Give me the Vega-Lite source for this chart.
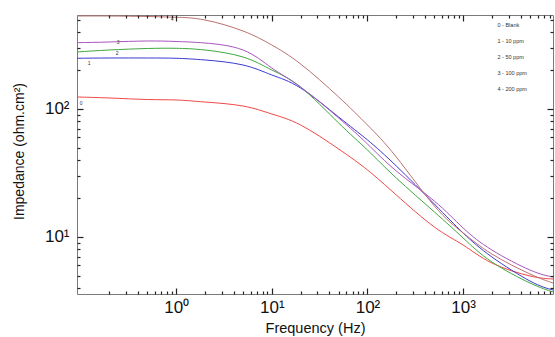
{
  "$schema": "https://vega.github.io/schema/vega-lite/v6.json",
  "width": 476,
  "height": 279,
  "autosize": {"type": "none"},
  "padding": {"left": 77, "top": 15, "right": 2, "bottom": 43},
  "background": "white",
  "config": {
    "view": {"stroke": "#7a7a7a", "strokeWidth": 1},
    "font": "Liberation Sans"
  },
  "datasets": {
    "curves": [
      {"series": "0 - Blank", "freq": 0.092, "imp": 124.1},
      {"series": "0 - Blank", "freq": 0.2, "imp": 121.9},
      {"series": "0 - Blank", "freq": 0.5, "imp": 118.6},
      {"series": "0 - Blank", "freq": 1, "imp": 117.6},
      {"series": "0 - Blank", "freq": 2, "imp": 113.4},
      {"series": "0 - Blank", "freq": 5, "imp": 105.5},
      {"series": "0 - Blank", "freq": 10, "imp": 91.4},
      {"series": "0 - Blank", "freq": 20, "imp": 75.0},
      {"series": "0 - Blank", "freq": 50, "imp": 48.7},
      {"series": "0 - Blank", "freq": 100, "imp": 33.4},
      {"series": "0 - Blank", "freq": 200, "imp": 21.3},
      {"series": "0 - Blank", "freq": 500, "imp": 11.97},
      {"series": "0 - Blank", "freq": 1000, "imp": 8.66},
      {"series": "0 - Blank", "freq": 2000, "imp": 6.26},
      {"series": "0 - Blank", "freq": 5000, "imp": 4.96},
      {"series": "0 - Blank", "freq": 8700, "imp": 4.70},
      {"series": "1 - 10 ppm", "freq": 0.092, "imp": 249.0},
      {"series": "1 - 10 ppm", "freq": 0.2, "imp": 250.3},
      {"series": "1 - 10 ppm", "freq": 0.5, "imp": 250.3},
      {"series": "1 - 10 ppm", "freq": 1, "imp": 249.0},
      {"series": "1 - 10 ppm", "freq": 2, "imp": 241.5},
      {"series": "1 - 10 ppm", "freq": 5, "imp": 220.7},
      {"series": "1 - 10 ppm", "freq": 10, "imp": 184.4},
      {"series": "1 - 10 ppm", "freq": 20, "imp": 145.9},
      {"series": "1 - 10 ppm", "freq": 50, "imp": 86.6},
      {"series": "1 - 10 ppm", "freq": 100, "imp": 57.3},
      {"series": "1 - 10 ppm", "freq": 200, "imp": 35.9},
      {"series": "1 - 10 ppm", "freq": 500, "imp": 18.1},
      {"series": "1 - 10 ppm", "freq": 1000, "imp": 10.75},
      {"series": "1 - 10 ppm", "freq": 2000, "imp": 6.98},
      {"series": "1 - 10 ppm", "freq": 5000, "imp": 4.53},
      {"series": "1 - 10 ppm", "freq": 8700, "imp": 3.85},
      {"series": "2 - 50 ppm", "freq": 0.092, "imp": 278.8},
      {"series": "2 - 50 ppm", "freq": 0.2, "imp": 289.0},
      {"series": "2 - 50 ppm", "freq": 0.5, "imp": 296.9},
      {"series": "2 - 50 ppm", "freq": 1, "imp": 298.0},
      {"series": "2 - 50 ppm", "freq": 2, "imp": 289.0},
      {"series": "2 - 50 ppm", "freq": 5, "imp": 254.8},
      {"series": "2 - 50 ppm", "freq": 10, "imp": 201.7},
      {"series": "2 - 50 ppm", "freq": 20, "imp": 148.5},
      {"series": "2 - 50 ppm", "freq": 50, "imp": 77.7},
      {"series": "2 - 50 ppm", "freq": 100, "imp": 47.8},
      {"series": "2 - 50 ppm", "freq": 200, "imp": 28.9},
      {"series": "2 - 50 ppm", "freq": 500, "imp": 15.7},
      {"series": "2 - 50 ppm", "freq": 1000, "imp": 9.82},
      {"series": "2 - 50 ppm", "freq": 2000, "imp": 6.38},
      {"series": "2 - 50 ppm", "freq": 5000, "imp": 4.37},
      {"series": "2 - 50 ppm", "freq": 8700, "imp": 3.72},
      {"series": "3 - 100 ppm", "freq": 0.092, "imp": 329.6},
      {"series": "3 - 100 ppm", "freq": 0.2, "imp": 333.8},
      {"series": "3 - 100 ppm", "freq": 0.5, "imp": 339.8},
      {"series": "3 - 100 ppm", "freq": 1, "imp": 336.8},
      {"series": "3 - 100 ppm", "freq": 2, "imp": 327.8},
      {"series": "3 - 100 ppm", "freq": 5, "imp": 289.0},
      {"series": "3 - 100 ppm", "freq": 10, "imp": 209.1},
      {"series": "3 - 100 ppm", "freq": 20, "imp": 148.5},
      {"series": "3 - 100 ppm", "freq": 50, "imp": 85.1},
      {"series": "3 - 100 ppm", "freq": 100, "imp": 53.3},
      {"series": "3 - 100 ppm", "freq": 200, "imp": 32.8},
      {"series": "3 - 100 ppm", "freq": 500, "imp": 19.1},
      {"series": "3 - 100 ppm", "freq": 1000, "imp": 11.76},
      {"series": "3 - 100 ppm", "freq": 2000, "imp": 7.91},
      {"series": "3 - 100 ppm", "freq": 5000, "imp": 5.52},
      {"series": "3 - 100 ppm", "freq": 8700, "imp": 4.87},
      {"series": "4 - 200 ppm", "freq": 0.092, "imp": 532.7},
      {"series": "4 - 200 ppm", "freq": 0.2, "imp": 532.7},
      {"series": "4 - 200 ppm", "freq": 0.5, "imp": 528.0},
      {"series": "4 - 200 ppm", "freq": 1, "imp": 521.0},
      {"series": "4 - 200 ppm", "freq": 2, "imp": 496.0},
      {"series": "4 - 200 ppm", "freq": 5, "imp": 406.8},
      {"series": "4 - 200 ppm", "freq": 10, "imp": 316.2},
      {"series": "4 - 200 ppm", "freq": 20, "imp": 224.7},
      {"series": "4 - 200 ppm", "freq": 50, "imp": 124.1},
      {"series": "4 - 200 ppm", "freq": 100, "imp": 75.0},
      {"series": "4 - 200 ppm", "freq": 200, "imp": 42.2},
      {"series": "4 - 200 ppm", "freq": 500, "imp": 17.5},
      {"series": "4 - 200 ppm", "freq": 1000, "imp": 10.75},
      {"series": "4 - 200 ppm", "freq": 2000, "imp": 7.36},
      {"series": "4 - 200 ppm", "freq": 5000, "imp": 5.14},
      {"series": "4 - 200 ppm", "freq": 8700, "imp": 4.37}
    ],
    "tags": [
      {"tag": "0", "freq": 0.1017, "imp": 111.4},
      {"tag": "1", "freq": 0.123, "imp": 228.8},
      {"tag": "2", "freq": 0.2416, "imp": 273.8},
      {"tag": "3", "freq": 0.2475, "imp": 333.8},
      {"tag": "4", "freq": 0.908, "imp": 504.9}
    ]
  },
  "layer": [
    {
      "data": {"name": "curves"},
      "mark": {"type": "line", "strokeWidth": 1, "interpolate": "natural", "clip": true},
      "encoding": {
        "x": {
          "field": "freq", "type": "quantitative",
          "scale": {"type": "log", "domain": [0.092, 8700], "nice": false},
          "axis": {
            "orient": "bottom",
            "zindex": 1,
            "values": [1, 10, 100, 1000],
            "labelExpr": "datum.value == 1 ? '10⁰' : datum.value == 10 ? '10¹' : datum.value == 100 ? '10²' : '10³'",
            "offset": -6,
            "tickSize": 6,
            "ticks": true,
            "tickColor": "#222222",
            "tickWidth": 1.2,
            "domain": false,
            "grid": false,
            "labelFontSize": 17,
            "labelColor": "#111111",
            "labelPadding": 5,
            "labelBaseline": "top",
            "labelFlush": false,
            "labelOverlap": false,
            "title": "Frequency (Hz)",
            "titleFontSize": 14.5,
            "titleFontWeight": "normal",
            "titleColor": "#111111",
            "titleBaseline": "top",
            "titleY": 33
          }
        },
        "y": {
          "field": "imp", "type": "quantitative",
          "scale": {"type": "log", "domain": [3.586, 542.4], "nice": false},
          "axis": {
            "orient": "left",
            "zindex": 1,
            "values": [10, 100],
            "labelExpr": "datum.value == 10 ? '10¹' : '10²'",
            "offset": -6,
            "tickSize": 6,
            "ticks": true,
            "tickColor": "#222222",
            "tickWidth": 1.2,
            "domain": false,
            "grid": false,
            "labelFontSize": 17,
            "labelColor": "#111111",
            "labelPadding": 8,
            "labelFlush": false,
            "labelOverlap": false,
            "title": "Impedance (ohm.cm²)",
            "titleFontSize": 14,
            "titleFontWeight": "normal",
            "titleColor": "#111111",
            "titleAngle": -90,
            "titleBaseline": "bottom",
            "titleAlign": "center",
            "titleX": -57,
            "titleY": 136
          }
        },
        "color": {
          "field": "series", "type": "nominal",
          "scale": {
            "domain": ["0 - Blank", "1 - 10 ppm", "2 - 50 ppm", "3 - 100 ppm", "4 - 200 ppm"],
            "range": ["#f04848", "#3a3ad0", "#3fa83f", "#a855c0", "#bb7070"]
          },
          "legend": {
            "orient": "none",
            "legendX": 415,
            "legendY": 7,
            "title": null,
            "symbolSize": 0,
            "symbolOpacity": 0,
            "symbolStrokeWidth": 0,
            "labelFontSize": 5.5,
            "labelColor": "#333333",
            "labelOffset": 0,
            "rowPadding": 9,
            "padding": 0
          }
        }
      }
    },
    {
      "data": {"name": "tags"},
      "mark": {"type": "text", "fontSize": 5, "color": "#333333"},
      "encoding": {
        "x": {
          "field": "freq", "type": "quantitative",
          "scale": {"type": "log", "domain": [0.092, 8700], "nice": false},
          "axis": {
            "orient": "top",
            "zindex": 1,
            "values": [1, 10, 100, 1000],
            "labels": false,
            "title": null,
            "grid": false,
            "domain": false,
            "offset": -6,
            "tickSize": 6,
            "ticks": true,
            "tickColor": "#222222",
            "tickWidth": 1.2
          }
        },
        "y": {
          "field": "imp", "type": "quantitative",
          "scale": {"type": "log", "domain": [3.586, 542.4], "nice": false},
          "axis": {
            "orient": "right",
            "zindex": 1,
            "values": [10, 100],
            "labels": false,
            "title": null,
            "grid": false,
            "domain": false,
            "offset": -6,
            "tickSize": 6,
            "ticks": true,
            "tickColor": "#222222",
            "tickWidth": 1.2
          }
        },
        "text": {"field": "tag", "type": "nominal"}
      }
    },
    {
      "data": {"name": "tags"},
      "mark": {"type": "point", "opacity": 0},
      "encoding": {
        "x": {
          "field": "freq", "type": "quantitative",
          "scale": {"type": "log", "domain": [0.092, 8700], "nice": false},
          "axis": {
            "orient": "bottom",
            "zindex": 1,
            "values": [0.2, 0.3, 0.4, 0.5, 0.6, 0.7, 0.8, 0.9, 2, 3, 4, 5, 6, 7, 8, 9, 20, 30, 40, 50, 60, 70, 80, 90, 200, 300, 400, 500, 600, 700, 800, 900, 2000, 3000, 4000, 5000, 6000, 7000, 8000],
            "labels": false,
            "title": null,
            "grid": false,
            "domain": false,
            "offset": -3,
            "tickSize": 3,
            "ticks": true,
            "tickColor": "#222222",
            "tickWidth": 1.2
          }
        },
        "y": {
          "field": "imp", "type": "quantitative",
          "scale": {"type": "log", "domain": [3.586, 542.4], "nice": false},
          "axis": {
            "orient": "left",
            "zindex": 1,
            "values": [4, 5, 6, 7, 8, 9, 20, 30, 40, 50, 60, 70, 80, 90, 200, 300, 400, 500],
            "labels": false,
            "title": null,
            "grid": false,
            "domain": false,
            "offset": -3,
            "tickSize": 3,
            "ticks": true,
            "tickColor": "#222222",
            "tickWidth": 1.2
          }
        }
      }
    },
    {
      "data": {"name": "tags"},
      "mark": {"type": "point", "opacity": 0},
      "encoding": {
        "x": {
          "field": "freq", "type": "quantitative",
          "scale": {"type": "log", "domain": [0.092, 8700], "nice": false},
          "axis": {
            "orient": "top",
            "zindex": 1,
            "values": [0.2, 0.3, 0.4, 0.5, 0.6, 0.7, 0.8, 0.9, 2, 3, 4, 5, 6, 7, 8, 9, 20, 30, 40, 50, 60, 70, 80, 90, 200, 300, 400, 500, 600, 700, 800, 900, 2000, 3000, 4000, 5000, 6000, 7000, 8000],
            "labels": false,
            "title": null,
            "grid": false,
            "domain": false,
            "offset": -3,
            "tickSize": 3,
            "ticks": true,
            "tickColor": "#222222",
            "tickWidth": 1.2
          }
        },
        "y": {
          "field": "imp", "type": "quantitative",
          "scale": {"type": "log", "domain": [3.586, 542.4], "nice": false},
          "axis": {
            "orient": "right",
            "zindex": 1,
            "values": [4, 5, 6, 7, 8, 9, 20, 30, 40, 50, 60, 70, 80, 90, 200, 300, 400, 500],
            "labels": false,
            "title": null,
            "grid": false,
            "domain": false,
            "offset": -3,
            "tickSize": 3,
            "ticks": true,
            "tickColor": "#222222",
            "tickWidth": 1.2
          }
        }
      }
    }
  ],
  "resolve": {"axis": {"x": "independent", "y": "independent"}}
}
